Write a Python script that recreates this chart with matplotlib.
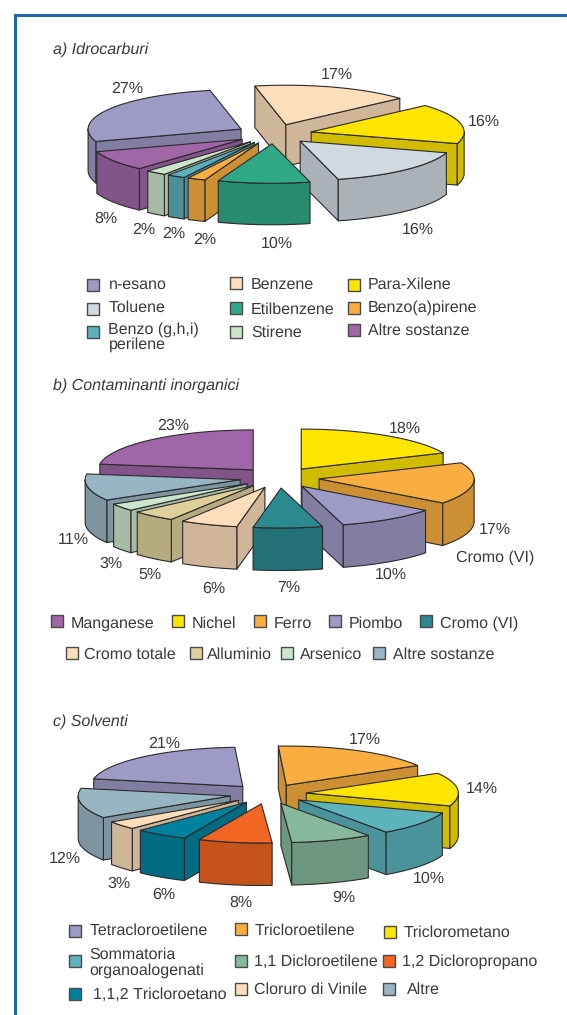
import numpy as np
import matplotlib
matplotlib.use("Agg")
import matplotlib.pyplot as plt
from matplotlib.patches import Polygon, Rectangle

plt.rcParams["font.family"] = ["Liberation Sans", "DejaVu Sans"]
plt.rcParams["text.hinting"] = "no_hinting"
plt.rcParams["text.hinting_factor"] = 1

TEXT = "#3a3a3a"
EDGE = "#2b2b2b"
BLUE = "#1a69ad"

# ---------------------------
# Data
# ---------------------------
idro_names = ["Benzene", "Para-Xilene", "Toluene", "Etilbenzene", "Benzo(a)pirene",
              "Benzo (g,h,i)\nperilene", "Stirene", "Altre sostanze", "n-esano"]
idro_values = [16.6, 16.4, 16.2, 9.7, 1.9, 1.9, 2.2, 8.2, 26.8]
idro_colors = ["#fddebb", "#ffe500", "#d0d9df", "#2fa985", "#f9ae3f",
               "#5cb0ba", "#cce5cb", "#a066a8", "#9d9ac6"]

inorg_names = ["Nichel", "Ferro", "Piombo", "Cromo (VI)", "Cromo totale",
               "Alluminio", "Arsenico", "Altre sostanze", "Manganese"]
inorg_values = [18.4, 16.9, 10.4, 7.2, 6.0, 4.6, 3.0, 10.8, 22.7]
inorg_colors = ["#ffe500", "#f9ae3f", "#9d9ac6", "#2a8a90", "#fddebb",
                "#decf9b", "#cce5cb", "#98b5c4", "#a066a8"]

solv_names = ["Tricloroetilene", "Triclorometano", "Sommatoria\norganoalogenati",
              "1,1 Dicloroetilene", "1,2 Dicloropropano", "1,1,2 Tricloroetano",
              "Cloruro di Vinile", "Altre", "Tetracloroetilene"]
solv_values = [17.4, 13.7, 9.9, 8.6, 7.8, 5.6, 3.4, 12.4, 21.0]
solv_colors = ["#f9ae3f", "#ffe500", "#5cb3bc", "#85b89c", "#f26522",
               "#00829f", "#fddebb", "#98b5c4", "#9d9ac6"]

# ---------------------------
# Layout, in image pixels
# ---------------------------
idro_label_pos = [(337, 74.5), (484, 121.5), (418, 229.5), (277, 243.5), (205, 239.5),
                  (174, 233.5), (144, 229.5), (106, 218.5), (127, 88.5)]
inorg_label_pos = [(405, 428.5), (495, 529.5), (391, 574.5), (289, 587.5), (214, 588.5),
                   (150, 574.5), (111, 563.5), (73, 539.5), (173, 425.5)]
solv_label_pos = [(365, 739.5), (482, 788.5), (429, 878.5), (344, 897.5), (241, 902.5),
                  (164, 894.5), (119, 883.5), (65, 858.5), (164, 743.5)]

# swatch x, swatch top y, text x, text centre y
idro_legend = [(230, 277, 251, 283), (348, 279, 368, 283), (87, 303, 108.5, 306),
               (230, 302, 251, 308), (348, 302, 368, 306), (87, 326, 108.5, 337),
               (230, 326, 251, 331), (348, 324, 368, 329), (87, 279, 108.5, 283)]
inorg_legend = [(171.5, 615, 192, 622), (254, 615, 273.5, 622), (329, 615, 349, 622),
                (420, 615, 440.5, 622), (66, 647, 83.5, 653), (190, 647, 207, 653),
                (281, 647, 299.5, 653), (373, 647, 393, 653), (51, 615, 70.5, 622)]
solv_legend = [(234.5, 923, 254.5, 929), (384, 926, 404, 931.5), (68.5, 955, 89.5, 963),
               (234.5, 955, 254.5, 960), (383, 955, 402.5, 960), (68.5, 988, 93, 993),
               (234.5, 983, 254, 988), (383, 983, 407, 988), (68.5, 925, 89.5, 929)]

SQUASH = 0.258
FONT = 11.4


def shade(color, f=0.82):
    rgb = matplotlib.colors.to_rgb(color)
    return tuple(c * f for c in rgb)


def arc(cx, cy, r, a1, a2):
    t = np.radians(np.linspace(a1, a2, 60))
    return np.column_stack([cx + r * np.cos(t), cy - r * SQUASH * np.sin(t)])


def face(ax, pts, color, z):
    ax.add_patch(Polygon(pts, closed=True, facecolor=color, edgecolor=EDGE,
                         linewidth=0.8, joinstyle="round", zorder=z))


def pie3d(ax, values, colors, center, start, explode, depth, radius):
    fracs = np.array(values) / sum(values) * 360
    ends = start - np.cumsum(fracs)
    starts = ends + fracs
    mids = (starts + ends) / 2
    order = np.argsort(-np.sin(np.radians(mids)))
    z = 2
    for i in order:
        a1, a2 = starts[i], ends[i]
        m = np.radians(mids[i])
        ax_x = center[0] + explode * np.cos(m)
        ax_y = center[1] - explode * SQUASH * np.sin(m)
        side = shade(colors[i])
        down = np.array([0, depth])
        apex = np.array([ax_x, ax_y])
        top = arc(ax_x, ax_y, radius, a1, a2)
        # radial faces that look towards the viewer
        if np.cos(np.radians(a1)) < 0:
            face(ax, [apex, top[0], top[0] + down, apex + down], side, z)
        if np.cos(np.radians(a2)) > 0:
            face(ax, [apex, top[-1], top[-1] + down, apex + down], side, z)
        # outer wall, only the front part of the ellipse
        hi, lo = min(a1, 0), max(a2, -180)
        if hi > lo:
            rim = arc(ax_x, ax_y, radius, hi, lo)
            face(ax, np.vstack([rim, rim[::-1] + down]), side, z)
        face(ax, np.vstack([apex, top]), colors[i], z)
        z += 1


def pct_labels(ax, values, positions):
    for v, (x, y) in zip(values, positions):
        ax.text(x, y, f"{v:.0f}%", ha="center", va="center", fontsize=FONT,
                color=TEXT, zorder=50)


def legend(ax, names, colors, slots):
    for name, color, (sx, sy, tx, ty) in zip(names, colors, slots):
        ax.add_patch(Rectangle((sx, sy), 12, 11.5, facecolor=color,
                               edgecolor="#4a4a4a", linewidth=1.0, zorder=40))
        va = "center" if "\n" in name else "center_baseline"
        ax.text(tx, ty, name, ha="left", va=va, fontsize=FONT, color=TEXT,
                linespacing=1.08, zorder=50)


fig = plt.figure(figsize=(5.67, 10.15), dpi=100)
ax = fig.add_axes([0, 0, 1, 1])
ax.set_xlim(0, 567)
ax.set_ylim(1015, 0)
ax.axis("off")

# cornice blu
ax.plot([14.8, 14.8, 567], [1015, 15, 15], color=BLUE, linewidth=2.2,
        solid_joinstyle="miter", zorder=1)

for label, y in [("a) Idrocarburi", 49.5), ("b) Contaminanti inorganici", 385.5),
                 ("c) Solventi", 721.5)]:
    ax.text(53, y, label, style="italic", ha="left", va="center", fontsize=FONT,
            color=TEXT)

pie3d(ax, idro_values, idro_colors, (274, 134), 101.7, 38, 41.5, 153)
pct_labels(ax, idro_values, idro_label_pos)
legend(ax, idro_names, idro_colors, idro_legend)

pie3d(ax, inorg_values, inorg_colors, (279.4, 477.7), 90, 40, 42.5, 155)
pct_labels(ax, inorg_values, inorg_label_pos)
ax.text(495, 558, "Cromo (VI)", ha="center", va="center", fontsize=FONT, color=TEXT)
legend(ax, inorg_names, inorg_colors, inorg_legend)

pie3d(ax, solv_values, solv_colors, (268, 794), 93, 38.5, 42.5, 152)
pct_labels(ax, solv_values, solv_label_pos)
legend(ax, solv_names, solv_colors, solv_legend)

fig.savefig("out.png", dpi=100)
